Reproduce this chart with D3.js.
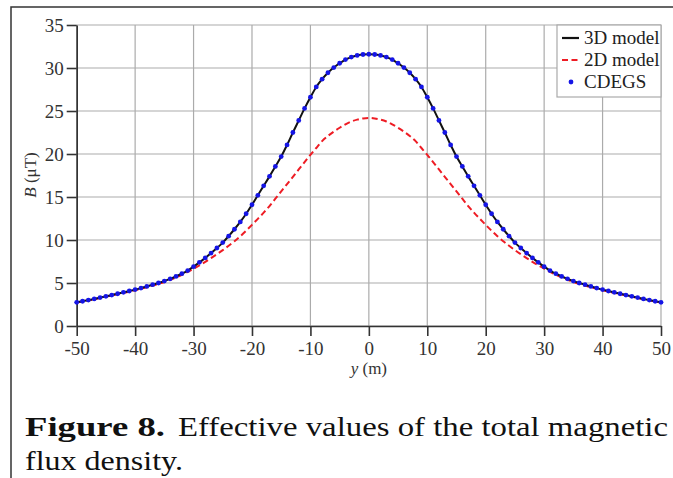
<!DOCTYPE html>
<html>
<head>
<meta charset="utf-8">
<script src="https://cdn.jsdelivr.net/npm/d3@7"></script>
<style>
  body { margin: 0; background: #fff; }
  svg { display: block; }
  svg text { font-family: "Liberation Serif", "Times New Roman", Times, serif; }
</style>
</head>
<body>
<svg id="chart" width="673" height="478"></svg>
<script>
// distance along y (m), 1 m steps
const positions = d3.range(-50, 51, 1)

// B (uT)
const model3d = [
  2.75, 2.88, 3.01, 3.15, 3.30, 3.45, 3.60, 3.75, 3.91, 4.07,
  4.23, 4.41, 4.60, 4.80, 5.00, 5.22, 5.48, 5.76, 6.08, 6.45,
  6.90, 7.40, 7.92, 8.48, 9.07, 9.70, 10.45, 11.25, 12.10, 13.05,
  14.10, 15.20, 16.30, 17.40, 18.55, 19.70, 21.05, 22.50, 23.90, 25.30,
  26.60, 27.80, 28.70, 29.45, 30.05, 30.55, 30.98, 31.27, 31.46, 31.57,
  31.60,
  31.57, 31.46, 31.27, 30.98, 30.55, 30.05, 29.45, 28.70, 27.80, 26.60,
  25.30, 23.90, 22.50, 21.05, 19.70, 18.55, 17.40, 16.30, 15.20, 14.10,
  13.05, 12.10, 11.25, 10.45, 9.70, 9.07, 8.48, 7.92, 7.40, 6.90,
  6.45, 6.08, 5.76, 5.48, 5.22, 5.00, 4.80, 4.60, 4.41, 4.23,
  4.07, 3.91, 3.75, 3.60, 3.45, 3.30, 3.15, 3.01, 2.88, 2.75
]
const model2d = [
  2.72, 2.85, 2.98, 3.11, 3.25, 3.40, 3.55, 3.70, 3.85, 4.00,
  4.16, 4.33, 4.51, 4.70, 4.90, 5.12, 5.38, 5.66, 5.96, 6.30,
  6.66, 7.05, 7.46, 7.90, 8.35, 8.82, 9.33, 9.86, 10.44, 11.08,
  11.76, 12.46, 13.18, 13.95, 14.80, 15.66, 16.50, 17.35, 18.20, 19.05,
  19.90, 20.70, 21.50, 22.10, 22.60, 23.05, 23.45, 23.78, 24.00, 24.14,
  24.20,
  24.14, 24.00, 23.78, 23.45, 23.05, 22.60, 22.10, 21.50, 20.70, 19.90,
  19.05, 18.20, 17.35, 16.50, 15.66, 14.80, 13.95, 13.18, 12.46, 11.76,
  11.08, 10.44, 9.86, 9.33, 8.82, 8.35, 7.90, 7.46, 7.05, 6.66,
  6.30, 5.96, 5.66, 5.38, 5.12, 4.90, 4.70, 4.51, 4.33, 4.16,
  4.00, 3.85, 3.70, 3.55, 3.40, 3.25, 3.11, 2.98, 2.85, 2.72
]
const cdegs = [
  2.75, 2.88, 3.01, 3.15, 3.30, 3.45, 3.60, 3.75, 3.91, 4.07,
  4.23, 4.41, 4.60, 4.80, 5.00, 5.22, 5.48, 5.76, 6.08, 6.45,
  6.90, 7.40, 7.92, 8.48, 9.07, 9.70, 10.45, 11.25, 12.10, 13.05,
  14.10, 15.20, 16.30, 17.40, 18.55, 19.70, 21.05, 22.50, 23.90, 25.30,
  26.60, 27.80, 28.70, 29.45, 30.05, 30.55, 30.98, 31.27, 31.46, 31.57,
  31.60,
  31.57, 31.46, 31.27, 30.98, 30.55, 30.05, 29.45, 28.70, 27.80, 26.60,
  25.30, 23.90, 22.50, 21.05, 19.70, 18.55, 17.40, 16.30, 15.20, 14.10,
  13.05, 12.10, 11.25, 10.45, 9.70, 9.07, 8.48, 7.92, 7.40, 6.90,
  6.45, 6.08, 5.76, 5.48, 5.22, 5.00, 4.80, 4.60, 4.41, 4.23,
  4.07, 3.91, 3.75, 3.60, 3.45, 3.30, 3.15, 3.01, 2.88, 2.75
]

const xTicks = d3.range(-50, 51, 10)
const yTicks = d3.range(0, 36, 5)
const legendLabels = ["3D model", "2D model", "CDEGS"]

const svg = d3.select("#chart")
const margin = {left: 76.7, right: 661, top: 25, bottom: 326}
const serif = '"Liberation Serif", "Times New Roman", Times, serif'

const x = d3.scaleLinear().domain([-50, 50]).range([margin.left, margin.right])
const y = d3.scaleLinear().domain([0, 35]).range([margin.bottom, margin.top])

// outer frame of the scanned figure
svg.append("path")
  .attr("d", "M11,478V7H673")
  .attr("fill", "none")
  .attr("stroke", "#333")
  .attr("stroke-width", 1.5)

// grid
const grid = svg.append("g").attr("stroke", "#ababab").attr("stroke-width", 1.2)
grid.selectAll(".gx").data(xTicks).join("line")
  .attr("x1", d => x(d)).attr("x2", d => x(d))
  .attr("y1", margin.top).attr("y2", margin.bottom)
grid.selectAll(".gy").data(yTicks).join("line")
  .attr("x1", margin.left).attr("x2", margin.right)
  .attr("y1", d => y(d)).attr("y2", d => y(d))

// axes (plain hyphen for negatives, as in the original)
const xAxis = svg.append("g")
  .attr("transform", `translate(0,${margin.bottom})`)
  .call(d3.axisBottom(x).tickValues(xTicks).tickFormat(d => String(d))
    .tickSize(10).tickPadding(6).tickSizeOuter(0))
const yAxis = svg.append("g")
  .attr("transform", `translate(${margin.left},0)`)
  .call(d3.axisLeft(y).tickValues(yTicks).tickFormat(d => String(d))
    .tickSize(10).tickPadding(3).tickSizeOuter(0))

for (const ax of [xAxis, yAxis]) {
  ax.attr("font-family", serif).attr("font-size", 19)
  ax.selectAll(".domain, line").attr("stroke", "#333").attr("stroke-width", 1.6)
  ax.selectAll("text").attr("fill", "#333")
}

// axis titles
svg.append("text")
  .attr("x", x(0)).attr("y", 374)
  .attr("text-anchor", "middle")
  .attr("fill", "#333")
  .attr("font-size", 17)
  .html('<tspan font-style="italic">y</tspan> (m)')

svg.append("text")
  .attr("transform", "translate(36,175) rotate(-90)")
  .attr("text-anchor", "middle")
  .attr("fill", "#333")
  .attr("font-size", 17)
  .html('<tspan font-style="italic">B</tspan> (μT)')

// series
const line = vals => d3.line()
  .x((d, i) => x(positions[i]))
  .y(d => y(d))
  .curve(d3.curveMonotoneX)(vals)

svg.append("path")
  .attr("d", line(model2d))
  .attr("fill", "none")
  .attr("stroke", "#ee1c24")
  .attr("stroke-width", 2)
  .attr("stroke-dasharray", "6,3.5")

svg.append("path")
  .attr("d", line(model3d))
  .attr("fill", "none")
  .attr("stroke", "#111")
  .attr("stroke-width", 2)

svg.append("g")
  .attr("fill", "#1515e6")
  .selectAll("circle")
  .data(cdegs)
  .join("circle")
    .attr("cx", (d, i) => x(positions[i]))
    .attr("cy", d => y(d))
    .attr("r", 2.4)

// legend
const lg = svg.append("g")
lg.append("rect")
  .attr("x", 557).attr("y", 25).attr("width", 104).attr("height", 72)
  .attr("fill", "#fff").attr("stroke", "#aaa").attr("stroke-width", 1.2)

const items = lg.selectAll(".item").data(legendLabels).join("g")
  .attr("transform", (d, i) => `translate(0,${38 + i * 22})`)
items.append("text")
  .attr("x", 584).attr("y", 6)
  .attr("fill", "#222")
  .attr("font-size", 19)
  .text(d => d)

items.filter((d, i) => i === 0).append("line")
  .attr("x1", 562).attr("x2", 579).attr("y1", 0).attr("y2", 0)
  .attr("stroke", "#111").attr("stroke-width", 2.2)
items.filter((d, i) => i === 1).append("line")
  .attr("x1", 562).attr("x2", 580).attr("y1", 0).attr("y2", 0)
  .attr("stroke", "#ee1c24").attr("stroke-width", 2.2)
  .attr("stroke-dasharray", "6,3.5")
items.filter((d, i) => i === 2).append("circle")
  .attr("cx", 571).attr("cy", 0).attr("r", 2.4)
  .attr("fill", "#1515e6")

// caption
const cap = (txt, xPos, yPos, len, bold) => svg.append("text")
  .attr("x", xPos).attr("y", yPos)
  .attr("textLength", len).attr("lengthAdjust", "spacingAndGlyphs")
  .attr("font-weight", bold ? "bold" : "normal")
  .attr("fill", "#111")
  .attr("font-size", 28)
  .text(txt)
cap("Figure 8.", 25, 436, 140, true)
cap("Effective values of the total magnetic", 178, 436, 490, false)
cap("flux density.", 25, 470, 158, false)
</script>
</body>
</html>
